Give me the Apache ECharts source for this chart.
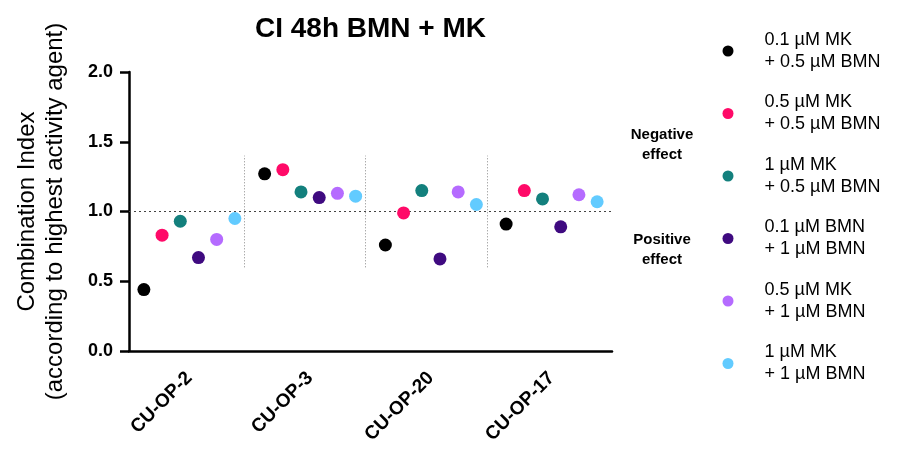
<!DOCTYPE html>
<html>
<head>
<meta charset="UTF-8">
<title>CI 48h BMN + MK</title>
<style>
  html, body { margin: 0; padding: 0; background: #fff; }
  #chart { width: 911px; height: 449px; }
</style>
</head>
<body>
<div id="chart"></div>
<script src="https://cdn.jsdelivr.net/npm/echarts@6/dist/echarts.min.js"></script>
<script>
// cell lines
var categories = ["CU-OP-2", "CU-OP-3", "CU-OP-20", "CU-OP-17"];
var yTicks = ["0.0", "0.5", "1.0", "1.5", "2.0"];

// combination index per treatment
var mk01_bmn05 = [0.44, 1.27, 0.76, 0.91];
var mk05_bmn05 = [0.83, 1.30, 0.99, 1.15];
var mk1_bmn05 = [0.93, 1.14, 1.15, 1.09];
var bmn01_bmn1 = [0.67, 1.10, 0.66, 0.89];
var mk05_bmn1 = [0.80, 1.13, 1.14, 1.12];
var mk1_bmn1 = [0.95, 1.11, 1.05, 1.07];

var seriesNames = [
    "0.1 µM MK\n+ 0.5 µM BMN",
    "0.5 µM MK\n+ 0.5 µM BMN",
    "1 µM MK\n+ 0.5 µM BMN",
    "0.1 µM BMN\n+ 1 µM BMN",
    "0.5 µM MK\n+ 1 µM BMN",
    "1 µM MK\n+ 1 µM BMN"
];
var seriesValues = [mk01_bmn05, mk05_bmn05, mk1_bmn05, bmn01_bmn1, mk05_bmn1, mk1_bmn1];
var colors = ["#000000", "#ff0a68", "#13807d", "#3f0a80", "#b56bff", "#62cbff"];

// dotted separators between cell lines (x in category units) and the CI = 1 line
var separators = [0.955, 1.955, 2.97];
var sepRange = [0.6, 1.4];
var refLine = 1.0;

var font = "Liberation Sans, Arial, sans-serif";
var chart = echarts.init(document.getElementById("chart"));

var series = seriesValues.map(function (vals, i) {
    return {
        name: seriesNames[i],
        type: "scatter",
        data: vals,
        symbolSize: 13,
        symbolOffset: [(i - 2.5) * 18.2, 0],
        itemStyle: { color: colors[i], opacity: 1 },
        z: 5
    };
});

var sepLines = separators.map(function (x) {
    return [{ coord: [x, sepRange[0]] }, { coord: [x, sepRange[1]] }];
});
sepLines.push({ yAxis: refLine, lineStyle: { color: "#444", type: [2, 3], width: 1.2 } });

series.push({
    type: "line",
    xAxisIndex: 1,
    data: [],
    silent: true,
    markLine: {
        symbol: "none",
        silent: true,
        label: { show: false },
        lineStyle: { color: "#888", type: [1, 2], width: 1 },
        data: sepLines
    }
});

var option = {
    animation: false,
    textStyle: { fontFamily: font },
    title: {
        text: "CI 48h BMN + MK",
        left: 255,
        top: 15,
        padding: 0,
        textStyle: { fontFamily: font, fontSize: 28, fontWeight: "bold", color: "#000" }
    },
    legend: {
        orient: "vertical",
        left: 722.5,
        top: 29,
        padding: 0,
        itemWidth: 11,
        itemHeight: 11,
        itemGap: 18.5,
        icon: "circle",
        data: seriesNames,
        textStyle: {
            fontFamily: font,
            fontSize: 18,
            lineHeight: 22,
            color: "#000",
            padding: [0, 0, 0, 26]
        }
    },
    grid: { left: 129, right: 299, top: 72, bottom: 98 },
    xAxis: [{
        type: "category",
        data: categories,
        axisLine: { lineStyle: { color: "#000", width: 2.5 } },
        axisTick: { alignWithLabel: true, length: 7, lineStyle: { width: 2.5, color: "#000" } },
        axisLabel: {
            rotate: 45,
            margin: 24,
            color: "#000",
            fontFamily: font,
            fontSize: 19,
            fontWeight: "bold"
        }
    }, {
        type: "value",
        min: 0,
        max: 4,
        show: false
    }],
    yAxis: {
        type: "value",
        min: 0,
        max: 2,
        interval: 0.5,
        name: "Combination Index\n(according to highest activity agent)",
        nameLocation: "middle",
        nameGap: 60,
        nameTextStyle: { fontFamily: font, fontSize: 24, lineHeight: 28, color: "#000" },
        axisLine: { show: true, lineStyle: { color: "#000", width: 2.5 } },
        axisTick: { show: true, length: 9, lineStyle: { width: 2.5, color: "#000" } },
        splitLine: { show: false },
        axisLabel: {
            margin: 16,
            color: "#000",
            fontFamily: font,
            fontSize: 18,
            fontWeight: "bold",
            formatter: function (v) { return yTicks[Math.round(v / 0.5)]; }
        }
    },
    graphic: [{
        type: "text",
        x: 662,
        y: 125,
        style: {
            text: "Negative\neffect",
            fontFamily: font,
            fontSize: 15,
            fontWeight: "bold",
            lineHeight: 20,
            fill: "#000",
            align: "center",
            verticalAlign: "top"
        }
    }, {
        type: "text",
        x: 662,
        y: 230,
        style: {
            text: "Positive\neffect",
            fontFamily: font,
            fontSize: 15,
            fontWeight: "bold",
            lineHeight: 20,
            fill: "#000",
            align: "center",
            verticalAlign: "top"
        }
    }],
    series: series
};

chart.setOption(option);
</script>
</body>
</html>
